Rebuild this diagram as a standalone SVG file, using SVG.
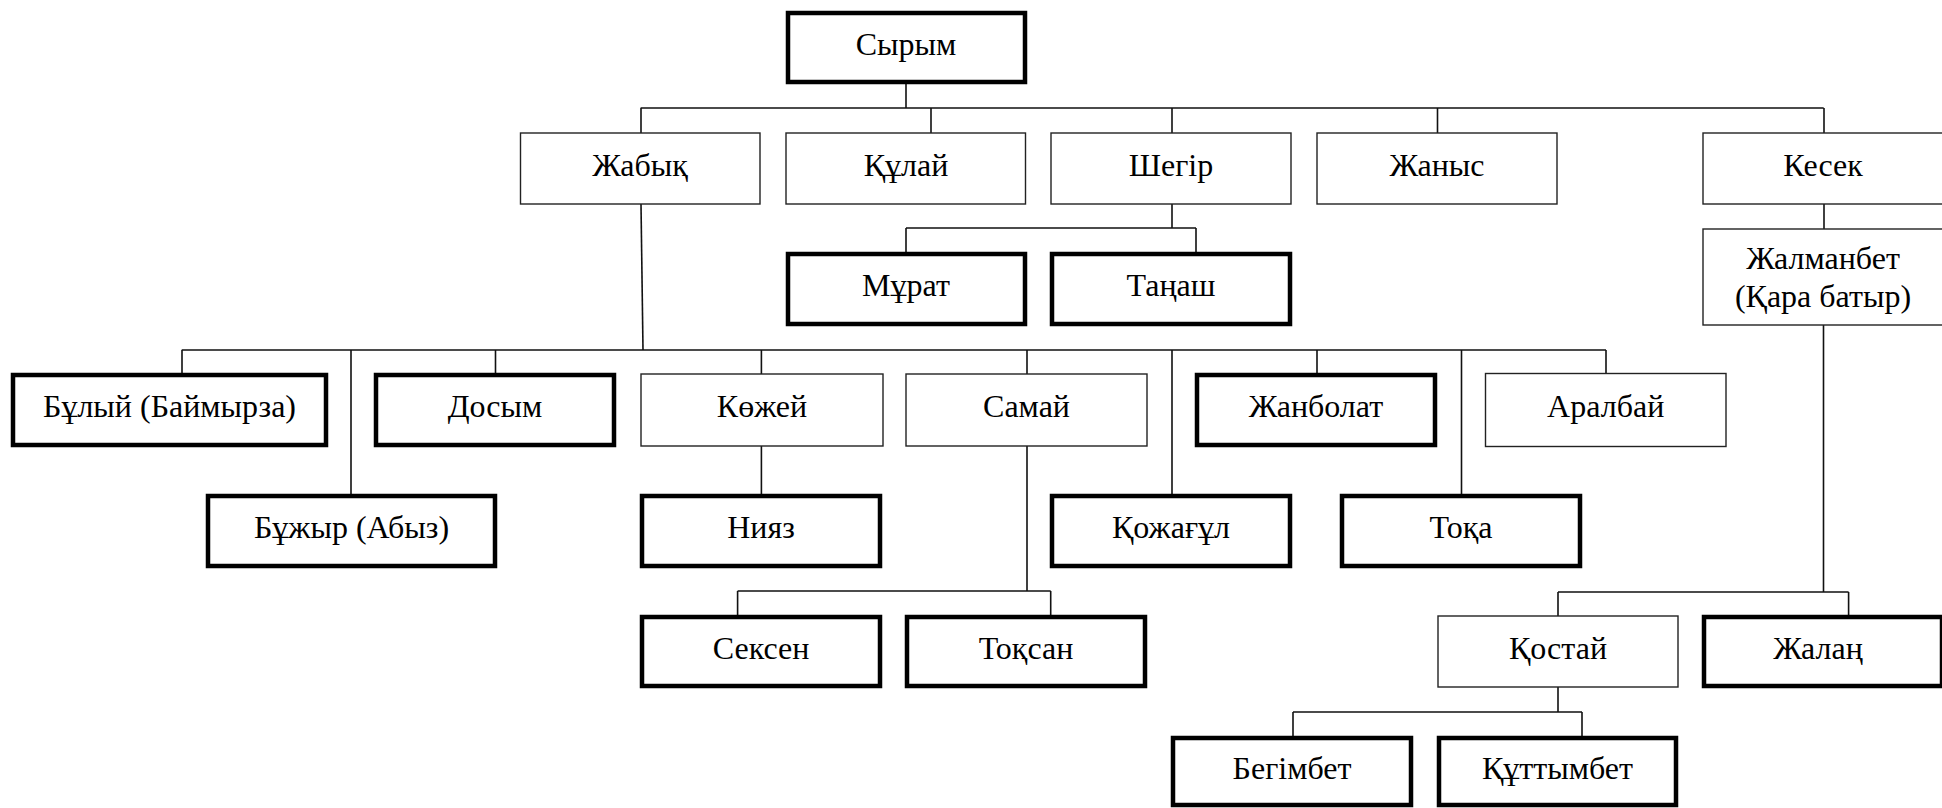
<svg xmlns="http://www.w3.org/2000/svg" width="1942" height="808" viewBox="0 0 1942 808" font-family="Liberation Serif, DejaVu Serif, serif">
<style>
.thin{fill:#fff;stroke:#222;stroke-width:1.4}
.thick{fill:#fff;stroke:#000;stroke-width:4.5}
.c{fill:none;stroke:#111;stroke-width:1.6}
.t{font-family:'Liberation Serif','DejaVu Serif',serif;font-size:32px;fill:#000;text-anchor:middle}
</style>
<rect width="1942" height="808" fill="#fff"/>
<g id="connectors">
<path class="c" d="M906,84V108M640.6,108H1823.7M641,108V133M931,108V133M1172,108V133M1437.5,108V133M1824,108V133"/>
<path class="c" d="M641,204L643,350"/>
<path class="c" d="M1172,204V228M906,228H1196M906,228V252M1196,228V252"/>
<path class="c" d="M181.7,350H1606M182,350V373M351,350V494M495.5,350V373M761.4,350V374M1027,350V374M1172,350V494M1317,350V373M1461.5,350V494M1606,350V373"/>
<path class="c" d="M761.4,446V494"/>
<path class="c" d="M1027,446V591M737.6,591H1050.7M737.6,591V615M1050.7,591V615"/>
<path class="c" d="M1824,204V229"/>
<path class="c" d="M1823.5,325V592M1558,592H1848.6M1558,592V616M1848.6,592V615"/>
<path class="c" d="M1558,687V712M1293,712H1582M1293,712V736M1582,712V736"/>
</g>
<g id="n-syrym"><rect class="thick" x="788" y="13" width="237" height="69"/><text class="t" x="906" y="55">Сырым</text></g>
<g id="n-zhabyk"><rect class="thin" x="520.5" y="133" width="239.5" height="71"/><text class="t" x="640" y="176">Жабық</text></g>
<g id="n-kulai"><rect class="thin" x="786" y="133" width="239.5" height="71"/><text class="t" x="906" y="176">Құлай</text></g>
<g id="n-shegir"><rect class="thin" x="1051" y="133" width="240" height="71"/><text class="t" x="1171" y="176">Шегір</text></g>
<g id="n-zhanys"><rect class="thin" x="1317" y="133" width="240" height="71"/><text class="t" x="1437" y="176">Жаныс</text></g>
<g id="n-kesek"><rect class="thin" x="1703" y="133" width="240" height="71"/><text class="t" x="1823" y="176">Кесек</text></g>
<g id="n-zhalmanbet"><rect class="thin" x="1703" y="229" width="240" height="96"/><text class="t" x="1823" y="269">Жалманбет</text><text class="t" x="1823" y="307">(Қара батыр)</text></g>
<g id="n-murat"><rect class="thick" x="788" y="254" width="237" height="70"/><text class="t" x="906" y="296">Мұрат</text></g>
<g id="n-tanash"><rect class="thick" x="1052" y="254" width="238" height="70"/><text class="t" x="1171" y="296">Таңаш</text></g>
<g id="n-bulyi"><rect class="thick" x="13" y="375" width="313" height="70"/><text class="t" x="169.5" y="417">Бұлый (Баймырза)</text></g>
<g id="n-dosym"><rect class="thick" x="376" y="375" width="238" height="70"/><text class="t" x="495" y="417">Досым</text></g>
<g id="n-kozhei"><rect class="thin" x="641" y="374" width="242" height="72"/><text class="t" x="762" y="417">Көжей</text></g>
<g id="n-samai"><rect class="thin" x="906" y="374" width="241" height="72"/><text class="t" x="1026.5" y="417">Самай</text></g>
<g id="n-zhanbolat"><rect class="thick" x="1197" y="375" width="238" height="70"/><text class="t" x="1316" y="417">Жанболат</text></g>
<g id="n-aralbai"><rect class="thin" x="1485.5" y="373.5" width="240.5" height="73"/><text class="t" x="1605.7" y="417">Аралбай</text></g>
<g id="n-buzhyr"><rect class="thick" x="208" y="496" width="287" height="70"/><text class="t" x="351.5" y="538">Бұжыр (Абыз)</text></g>
<g id="n-niyaz"><rect class="thick" x="642" y="496" width="238" height="70"/><text class="t" x="761" y="538">Нияз</text></g>
<g id="n-kozhagul"><rect class="thick" x="1052" y="496" width="238" height="70"/><text class="t" x="1171" y="538">Қожағұл</text></g>
<g id="n-toka"><rect class="thick" x="1342" y="496" width="238" height="70"/><text class="t" x="1461" y="538">Тоқа</text></g>
<g id="n-seksen"><rect class="thick" x="642" y="617" width="238" height="69"/><text class="t" x="761" y="659">Сексен</text></g>
<g id="n-toksan"><rect class="thick" x="907" y="617" width="238" height="69"/><text class="t" x="1026" y="659">Тоқсан</text></g>
<g id="n-kostai"><rect class="thin" x="1438" y="616" width="240" height="71"/><text class="t" x="1558" y="659">Қостай</text></g>
<g id="n-zhalan"><rect class="thick" x="1704" y="617" width="238" height="69"/><text class="t" x="1818" y="659">Жалаң</text></g>
<g id="n-begimbet"><rect class="thick" x="1173" y="738" width="238" height="67"/><text class="t" x="1292" y="779">Бегімбет</text></g>
<g id="n-kuttymbet"><rect class="thick" x="1439" y="738" width="237" height="67"/><text class="t" x="1557.5" y="779">Құттымбет</text></g>
</svg>
